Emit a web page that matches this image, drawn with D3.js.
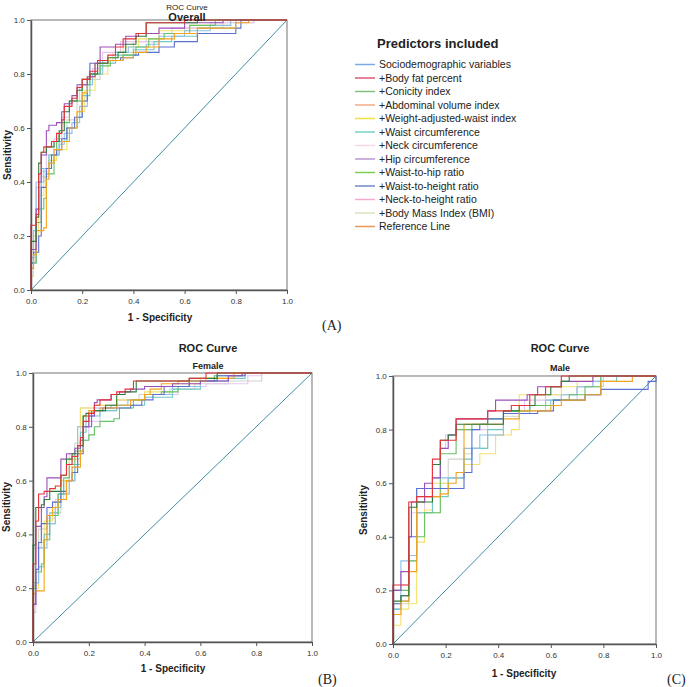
<!DOCTYPE html>
<html>
<head>
<meta charset="utf-8">
<script src="https://cdn.jsdelivr.net/npm/d3@7"></script>
<style>
    body { margin: 0; background: #fff; }
    text { font-family: "Liberation Sans", Arial, sans-serif; fill: #222; }
    .tick text { font-size: 8px; fill: #333; }
    .panel-tag { font-family: "Liberation Serif", "Times New Roman", serif; font-size: 14px; }
</style>
</head>
<body>
<svg id="chart" width="689" height="687"></svg>
<script>
// series order used in every panel
const seriesKeys = ['lightgray', 'lightpink', 'yellow', 'teal', 'lightblue', 'green', 'blue', 'orange', 'purple', 'darkgreen', 'red'];

const ticks = [0, 0.2, 0.4, 0.6, 0.8, 1.0];

const legendLabels = [
    'Sociodemographic variables',
    '+Body fat percent',
    '+Conicity index',
    '+Abdominal volume index',
    '+Weight-adjusted-waist index',
    '+Waist circumference',
    '+Neck circumference',
    '+Hip circumference',
    '+Waist-to-hip ratio',
    '+Waist-to-height ratio',
    '+Neck-to-height ratio',
    '+Body Mass Index (BMI)',
    'Reference Line',
];

// [1 - specificity, sensitivity] at each rise of the step curve
const overallCurves = {
    red: [[0,0.24],[0.02,0.28],[0.03,0.43],[0.04,0.51],[0.05,0.53],[0.08,0.55],[0.1,0.58],[0.12,0.63],[0.13,0.68],[0.16,0.71],[0.18,0.75],[0.2,0.78],[0.23,0.81],[0.26,0.85],[0.3,0.87],[0.33,0.9],[0.36,0.93],[0.41,0.95],[0.45,0.99],[0.6,1],[1,1]],
    darkgreen: [[0,0.18],[0.02,0.27],[0.03,0.47],[0.04,0.51],[0.06,0.53],[0.09,0.55],[0.11,0.59],[0.13,0.66],[0.15,0.7],[0.18,0.74],[0.2,0.78],[0.23,0.8],[0.26,0.84],[0.3,0.86],[0.34,0.88],[0.37,0.91],[0.41,0.94],[0.45,0.99],[0.65,1],[1,1]],
    purple: [[0,0.15],[0.02,0.3],[0.03,0.4],[0.04,0.5],[0.06,0.59],[0.07,0.61],[0.1,0.62],[0.12,0.66],[0.13,0.69],[0.16,0.72],[0.18,0.76],[0.22,0.79],[0.25,0.84],[0.27,0.9],[0.33,0.91],[0.37,0.94],[0.42,0.95],[0.5,0.97],[0.6,0.99],[0.75,1],[1,1]],
    orange: [[0,0.08],[0.01,0.13],[0.02,0.22],[0.05,0.23],[0.06,0.41],[0.07,0.47],[0.09,0.52],[0.12,0.55],[0.15,0.6],[0.18,0.66],[0.2,0.73],[0.22,0.79],[0.25,0.84],[0.3,0.85],[0.36,0.86],[0.4,0.88],[0.45,0.9],[0.5,0.93],[0.56,0.95],[0.65,0.97],[0.8,0.99],[0.85,1],[1,1]],
    blue: [[0,0.1],[0.01,0.14],[0.03,0.2],[0.04,0.38],[0.06,0.45],[0.08,0.5],[0.1,0.52],[0.12,0.56],[0.14,0.6],[0.17,0.64],[0.2,0.7],[0.22,0.78],[0.23,0.84],[0.3,0.85],[0.35,0.86],[0.4,0.87],[0.42,0.88],[0.5,0.9],[0.56,0.92],[0.65,0.95],[0.8,0.97],[0.82,1],[1,1]],
    lightblue: [[0,0.12],[0.01,0.22],[0.02,0.4],[0.05,0.45],[0.08,0.5],[0.11,0.54],[0.13,0.58],[0.16,0.62],[0.19,0.68],[0.22,0.76],[0.24,0.8],[0.28,0.85],[0.33,0.88],[0.38,0.9],[0.45,0.91],[0.5,0.94],[0.6,0.96],[0.7,0.98],[0.78,1],[1,1]],
    yellow: [[0,0.05],[0.01,0.2],[0.03,0.35],[0.05,0.42],[0.07,0.48],[0.1,0.52],[0.14,0.6],[0.18,0.66],[0.21,0.74],[0.25,0.8],[0.3,0.86],[0.36,0.9],[0.42,0.93],[0.5,0.96],[0.62,0.98],[0.78,1],[1,1]],
    green: [[0,0.1],[0.02,0.25],[0.04,0.3],[0.05,0.34],[0.06,0.43],[0.09,0.5],[0.1,0.55],[0.11,0.58],[0.12,0.62],[0.15,0.7],[0.2,0.76],[0.23,0.8],[0.27,0.83],[0.31,0.85],[0.36,0.87],[0.41,0.9],[0.46,0.93],[0.52,0.95],[0.62,0.98],[0.72,1],[1,1]],
    lightpink: [[0,0.1],[0.02,0.3],[0.04,0.42],[0.06,0.5],[0.09,0.56],[0.12,0.64],[0.15,0.7],[0.19,0.76],[0.24,0.82],[0.28,0.88],[0.35,0.92],[0.45,0.95],[0.55,0.97],[0.7,0.99],[0.87,1],[1,1]],
    lightgray: [[0,0.12],[0.02,0.38],[0.04,0.44],[0.07,0.5],[0.1,0.56],[0.14,0.63],[0.18,0.7],[0.22,0.78],[0.27,0.84],[0.32,0.88],[0.4,0.92],[0.5,0.95],[0.6,0.97],[0.75,0.99],[0.87,1],[1,1]],
    teal: [[0,0.1],[0.02,0.3],[0.04,0.45],[0.07,0.5],[0.11,0.55],[0.14,0.6],[0.18,0.64],[0.2,0.72],[0.23,0.8],[0.27,0.84],[0.33,0.87],[0.4,0.89],[0.48,0.92],[0.55,0.94],[0.65,0.97],[0.8,1],[1,1]],
};

const femaleCurves = {
    red: [[0,0.29],[0.01,0.45],[0.02,0.55],[0.04,0.56],[0.06,0.57],[0.08,0.58],[0.1,0.62],[0.12,0.66],[0.14,0.69],[0.16,0.73],[0.17,0.76],[0.18,0.82],[0.2,0.85],[0.22,0.88],[0.24,0.9],[0.28,0.92],[0.3,0.93],[0.33,0.94],[0.36,0.97],[0.56,0.98],[0.62,1],[1,1]],
    darkgreen: [[0,0.36],[0.01,0.5],[0.03,0.51],[0.04,0.53],[0.06,0.56],[0.1,0.62],[0.12,0.68],[0.14,0.7],[0.16,0.73],[0.18,0.84],[0.19,0.85],[0.22,0.86],[0.26,0.88],[0.3,0.92],[0.33,0.93],[0.37,0.97],[0.56,0.98],[0.66,1],[1,1]],
    purple: [[0,0.14],[0.01,0.43],[0.03,0.5],[0.04,0.54],[0.05,0.61],[0.1,0.68],[0.12,0.7],[0.15,0.72],[0.17,0.75],[0.18,0.8],[0.2,0.84],[0.22,0.89],[0.23,0.9],[0.28,0.92],[0.31,0.93],[0.35,0.94],[0.4,0.95],[0.5,0.96],[0.6,0.97],[0.7,0.99],[0.75,1],[1,1]],
    orange: [[0,0.18],[0.01,0.19],[0.04,0.38],[0.05,0.47],[0.07,0.5],[0.09,0.53],[0.12,0.6],[0.14,0.65],[0.17,0.71],[0.18,0.84],[0.2,0.86],[0.24,0.87],[0.3,0.88],[0.35,0.9],[0.4,0.92],[0.42,0.94],[0.46,0.96],[0.52,0.97],[0.62,0.98],[0.72,1],[1,1]],
    blue: [[0,0.14],[0.01,0.27],[0.02,0.37],[0.03,0.44],[0.05,0.5],[0.07,0.52],[0.1,0.56],[0.12,0.6],[0.14,0.63],[0.16,0.7],[0.18,0.8],[0.21,0.86],[0.25,0.87],[0.35,0.88],[0.39,0.9],[0.43,0.92],[0.47,0.95],[0.56,0.97],[0.66,0.99],[0.76,1],[1,1]],
    lightblue: [[0,0.21],[0.01,0.22],[0.02,0.35],[0.05,0.44],[0.08,0.5],[0.1,0.55],[0.13,0.6],[0.15,0.65],[0.16,0.8],[0.18,0.84],[0.22,0.87],[0.28,0.88],[0.34,0.9],[0.4,0.92],[0.5,0.95],[0.6,0.97],[0.7,0.99],[0.76,1],[1,1]],
    yellow: [[0,0.2],[0.02,0.37],[0.04,0.45],[0.07,0.52],[0.1,0.6],[0.13,0.68],[0.16,0.8],[0.17,0.87],[0.22,0.88],[0.3,0.9],[0.4,0.93],[0.5,0.96],[0.6,0.98],[0.72,1],[1,1]],
    green: [[0,0.2],[0.01,0.26],[0.03,0.29],[0.04,0.38],[0.06,0.47],[0.09,0.55],[0.11,0.61],[0.13,0.66],[0.15,0.71],[0.18,0.75],[0.2,0.77],[0.22,0.8],[0.24,0.82],[0.29,0.83],[0.31,0.87],[0.36,0.9],[0.4,0.92],[0.46,0.93],[0.52,0.95],[0.56,0.97],[0.65,0.99],[0.75,1],[1,1]],
    lightpink: [[0,0.11],[0.01,0.35],[0.03,0.42],[0.05,0.46],[0.08,0.53],[0.11,0.6],[0.14,0.68],[0.17,0.75],[0.2,0.82],[0.24,0.86],[0.3,0.9],[0.4,0.92],[0.52,0.95],[0.62,0.96],[0.77,0.99],[0.82,1],[1,1]],
    lightgray: [[0,0.35],[0.02,0.42],[0.05,0.44],[0.08,0.48],[0.1,0.55],[0.13,0.7],[0.15,0.74],[0.17,0.87],[0.22,0.88],[0.3,0.9],[0.38,0.92],[0.49,0.94],[0.58,0.96],[0.7,0.97],[0.82,1],[1,1]],
    teal: [[0,0.22],[0.02,0.28],[0.04,0.4],[0.06,0.48],[0.09,0.55],[0.12,0.6],[0.15,0.66],[0.17,0.78],[0.19,0.84],[0.24,0.86],[0.3,0.88],[0.4,0.91],[0.5,0.94],[0.6,0.97],[0.7,0.98],[0.76,1],[1,1]],
};

const maleCurves = {
    red: [[0,0.22],[0.06,0.53],[0.09,0.55],[0.15,0.69],[0.18,0.76],[0.24,0.84],[0.36,0.87],[0.45,0.89],[0.52,0.93],[0.58,0.96],[0.64,1],[1,1]],
    darkgreen: [[0,0.16],[0.03,0.18],[0.06,0.51],[0.09,0.53],[0.15,0.67],[0.18,0.76],[0.21,0.78],[0.24,0.82],[0.42,0.87],[0.48,0.89],[0.54,0.93],[0.6,0.96],[0.64,0.98],[0.67,1],[1,1]],
    purple: [[0,0.2],[0.03,0.27],[0.06,0.4],[0.07,0.53],[0.12,0.6],[0.15,0.62],[0.18,0.73],[0.21,0.78],[0.24,0.84],[0.36,0.87],[0.39,0.91],[0.51,0.93],[0.55,0.96],[0.64,0.98],[0.76,1],[1,1]],
    orange: [[0,0.11],[0.03,0.16],[0.06,0.27],[0.09,0.53],[0.12,0.55],[0.18,0.56],[0.21,0.6],[0.24,0.64],[0.27,0.82],[0.42,0.84],[0.48,0.87],[0.6,0.89],[0.64,0.91],[0.73,0.93],[0.79,0.98],[0.91,1],[1,1]],
    blue: [[0,0.15],[0.03,0.18],[0.06,0.4],[0.09,0.58],[0.27,0.64],[0.3,0.8],[0.33,0.82],[0.36,0.84],[0.42,0.86],[0.55,0.87],[0.61,0.91],[0.73,0.93],[0.79,0.95],[0.97,0.98],[1,1]],
    lightblue: [[0,0.13],[0.03,0.31],[0.06,0.33],[0.09,0.58],[0.15,0.62],[0.27,0.73],[0.33,0.78],[0.42,0.86],[0.52,0.89],[0.58,0.91],[0.64,0.93],[0.7,0.96],[0.76,0.98],[0.79,1],[1,1]],
    yellow: [[0,0.07],[0.03,0.13],[0.06,0.15],[0.09,0.38],[0.12,0.5],[0.15,0.6],[0.21,0.62],[0.27,0.67],[0.33,0.71],[0.39,0.78],[0.45,0.8],[0.48,0.93],[0.64,0.96],[0.7,0.98],[0.76,1],[1,1]],
    green: [[0,0.2],[0.06,0.31],[0.09,0.4],[0.12,0.49],[0.18,0.71],[0.24,0.8],[0.3,0.82],[0.36,0.84],[0.42,0.87],[0.52,0.89],[0.61,0.91],[0.67,0.93],[0.73,0.96],[0.79,1],[1,1]],
    lightpink: [[0,0.2],[0.03,0.22],[0.06,0.4],[0.07,0.49],[0.12,0.55],[0.18,0.73],[0.2,0.78],[0.24,0.8],[0.36,0.82],[0.42,0.87],[0.5,0.91],[0.58,0.93],[0.7,0.96],[0.76,0.98],[0.8,1],[1,1]],
    lightgray: [[0,0.15],[0.06,0.31],[0.09,0.49],[0.18,0.6],[0.21,0.69],[0.27,0.71],[0.3,0.73],[0.36,0.78],[0.42,0.85],[0.48,0.87],[0.58,0.91],[0.7,0.96],[0.8,1],[1,1]],
    teal: [[0,0.13],[0.03,0.16],[0.06,0.33],[0.09,0.49],[0.15,0.55],[0.21,0.62],[0.27,0.69],[0.3,0.73],[0.36,0.8],[0.42,0.87],[0.52,0.89],[0.6,0.91],[0.73,0.93],[0.79,0.98],[0.85,1],[1,1]],
};

const COLORS = {
    red: '#e8333c',
    darkgreen: '#2f7d3b',
    purple: '#9b50b8',
    orange: '#f5a21e',
    blue: '#5b70d2',
    lightblue: '#8cc2ea',
    yellow: '#f2e26a',
    green: '#66c266',
    lightpink: '#e6c6ee',
    lightgray: '#d2d2cc',
    teal: '#70c8c6',
};
const LEGEND_COLORS = [
    '#7aaae6', '#e05878', '#80c080', '#f8a888', '#f0e040', '#78d0c8', '#f8d8e4',
    '#b898d0', '#7cd050', '#7088d0', '#f8a8cc', '#e0e0c0', '#e89858',
];
const REF_COLOR = '#3f8ea3';

const panels = [
    {
        curves: overallCurves,
        subtitle: 'Overall',
        box: { left: 31, right: 287, top: 20, bottom: 290 },
        title: { x: 187, y: 10, size: 8, weight: 'normal' },
        sub: { x: 187, y: 21, size: 11 },
        yLabel: { x: 11, y: 155 },
        xLabel: { x: 160, y: 321 },
        tag: { text: '(A)', x: 322, y: 330 },
    },
    {
        curves: femaleCurves,
        subtitle: 'Female',
        box: { left: 33, right: 312, top: 373, bottom: 642 },
        title: { x: 208, y: 352, size: 11, weight: 'bold' },
        sub: { x: 208, y: 369, size: 9 },
        yLabel: { x: 10, y: 507 },
        xLabel: { x: 173, y: 672 },
        tag: { text: '(B)', x: 318, y: 684 },
    },
    {
        curves: maleCurves,
        subtitle: 'Male',
        box: { left: 393, right: 656, top: 376, bottom: 644 },
        title: { x: 560, y: 352, size: 11, weight: 'bold' },
        sub: { x: 560, y: 371, size: 9 },
        yLabel: { x: 367, y: 510 },
        xLabel: { x: 524, y: 677 },
        tag: { text: '(C)', x: 667, y: 684 },
    },
];

const svg = d3.select('#chart');

function drawPanel(panel) {
    const { box } = panel;
    const x = d3.scaleLinear().domain([0, 1]).range([box.left, box.right]);
    const y = d3.scaleLinear().domain([0, 1]).range([box.bottom, box.top]);
    const g = svg.append('g');

    // frame
    g.append('rect')
        .attr('x', box.left)
        .attr('y', box.top)
        .attr('width', box.right - box.left)
        .attr('height', box.bottom - box.top)
        .attr('fill', '#fff')
        .attr('stroke', '#8a8a8a')
        .attr('stroke-width', 1.2);

    const line = d3
        .line()
        .x(d => x(d[0]))
        .y(d => y(d[1]))
        .curve(d3.curveStepAfter);

    g.append('line')
        .attr('x1', x(0))
        .attr('y1', y(0))
        .attr('x2', x(1))
        .attr('y2', y(1))
        .attr('stroke', REF_COLOR)
        .attr('stroke-width', 1);

    seriesKeys.forEach(key => {
        g.append('path')
            .datum([[0, 0], ...panel.curves[key]])
            .attr('fill', 'none')
            .attr('stroke', COLORS[key])
            .attr('stroke-width', 1.1)
            .attr('d', line);
    });

    const xAxis = g
        .append('g')
        .attr('transform', `translate(0,${box.bottom})`)
        .call(d3.axisBottom(x).tickValues(ticks).tickSize(4).tickSizeOuter(0).tickFormat(d3.format('.1f')));
    const yAxis = g
        .append('g')
        .attr('transform', `translate(${box.left},0)`)
        .call(d3.axisLeft(y).tickValues(ticks).tickSize(4).tickSizeOuter(0).tickFormat(d3.format('.1f')));
    [xAxis, yAxis].forEach(axis => {
        axis.select('.domain').attr('stroke', '#555').attr('stroke-width', 1.5);
        axis.selectAll('.tick line').attr('stroke', '#555');
        axis.attr('font-family', null).attr('font-size', null);
    });
    xAxis.selectAll('.tick text').attr('dy', '0.9em');
    yAxis.selectAll('.tick text').attr('dx', '0.1em');

    g.append('text')
        .attr('x', panel.title.x)
        .attr('y', panel.title.y)
        .attr('text-anchor', 'middle')
        .attr('font-size', panel.title.size)
        .attr('font-weight', panel.title.weight)
        .text('ROC Curve');
    g.append('text')
        .attr('x', panel.sub.x)
        .attr('y', panel.sub.y)
        .attr('text-anchor', 'middle')
        .attr('font-size', panel.sub.size)
        .attr('font-weight', 'bold')
        .text(panel.subtitle);
    g.append('text')
        .attr('transform', `translate(${panel.yLabel.x},${panel.yLabel.y}) rotate(-90)`)
        .attr('text-anchor', 'middle')
        .attr('font-size', 10)
        .attr('font-weight', 'bold')
        .text('Sensitivity');
    g.append('text')
        .attr('x', panel.xLabel.x)
        .attr('y', panel.xLabel.y)
        .attr('text-anchor', 'middle')
        .attr('font-size', 10)
        .attr('font-weight', 'bold')
        .text('1 - Specificity');
    g.append('text')
        .classed('panel-tag', true)
        .attr('x', panel.tag.x)
        .attr('y', panel.tag.y)
        .text(panel.tag.text);
}

function drawLegend() {
    const legend = svg.append('g').attr('transform', 'translate(355,48)');
    legend
        .append('text')
        .attr('x', 22)
        .attr('y', 0)
        .attr('font-size', 13)
        .attr('font-weight', 'bold')
        .text('Predictors included');

    const items = legend
        .selectAll('g.item')
        .data(legendLabels)
        .join('g')
        .classed('item', true)
        .attr('transform', (d, i) => `translate(0,${20 + i * 13.5})`);
    items
        .append('line')
        .attr('x1', 0)
        .attr('x2', 20)
        .attr('y1', -3.5)
        .attr('y2', -3.5)
        .attr('stroke', (d, i) => LEGEND_COLORS[i])
        .attr('stroke-width', 1.5);
    items
        .append('text')
        .attr('x', 24)
        .attr('font-size', 10.5)
        .attr('fill', '#333')
        .text(d => d);
}

panels.forEach(drawPanel);
drawLegend();
</script>
</body>
</html>
